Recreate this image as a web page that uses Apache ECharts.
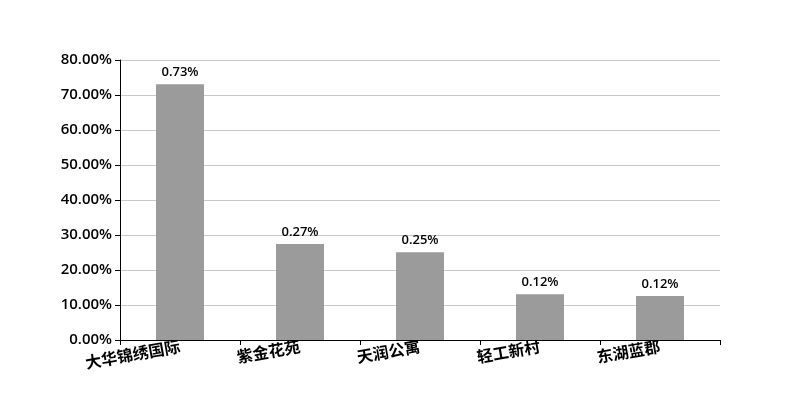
<!DOCTYPE html>
<html><head><meta charset="utf-8">
<script src="https://cdn.jsdelivr.net/npm/echarts@6/dist/echarts.min.js"></script>
<style>html,body{margin:0;padding:0;background:#fff}#c{width:800px;height:400px}</style>
</head><body><div id="c"></div>
<script>
const categories = ['大华锦绣国际', '紫金花苑', '天润公寓', '轻工新村', '东湖蓝郡'];
const values = [73.1, 27.4, 25.1, 13.1, 12.6];
const labelTexts = ['0.73%', '0.27%', '0.25%', '0.12%', '0.12%'];
const font = '"Open Sans", "Noto Sans CJK SC", sans-serif';
const chart = echarts.init(document.getElementById('c'));
chart.setOption({
  animation: false,
  backgroundColor: '#fff',
  grid: { left: 120, right: 80, top: 60, bottom: 60 },
  xAxis: {
    type: 'category', data: categories,
    axisLine: { lineStyle: { color: '#000' } },
    axisTick: { show: true, length: 5, lineStyle: { color: '#000' } },
    axisLabel: { rotate: 10, color: '#000', fontSize: 16, fontWeight: 600, fontFamily: '"Noto Sans CJK SC", sans-serif', margin: 6 }
  },
  yAxis: {
    type: 'value', min: 0, max: 80, interval: 10,
    axisLine: { show: true, lineStyle: { color: '#000' } },
    axisTick: { show: true, length: 5, lineStyle: { color: '#000' } },
    splitLine: { lineStyle: { color: '#c8c8c8' } },
    axisLabel: { color: '#000', fontSize: 15, fontWeight: 600, fontFamily: font, margin: 8,
      formatter: v => v.toFixed(2) + '%' }
  },
  series: [{
    type: 'bar', data: values, barWidth: '40%',
    itemStyle: { color: '#9b9b9b' },
    label: { show: true, position: 'top', color: '#000', fontSize: 13, fontWeight: 600, fontFamily: font, distance: 5,
      formatter: p => labelTexts[p.dataIndex] }
  }]
});
</script></body></html>
